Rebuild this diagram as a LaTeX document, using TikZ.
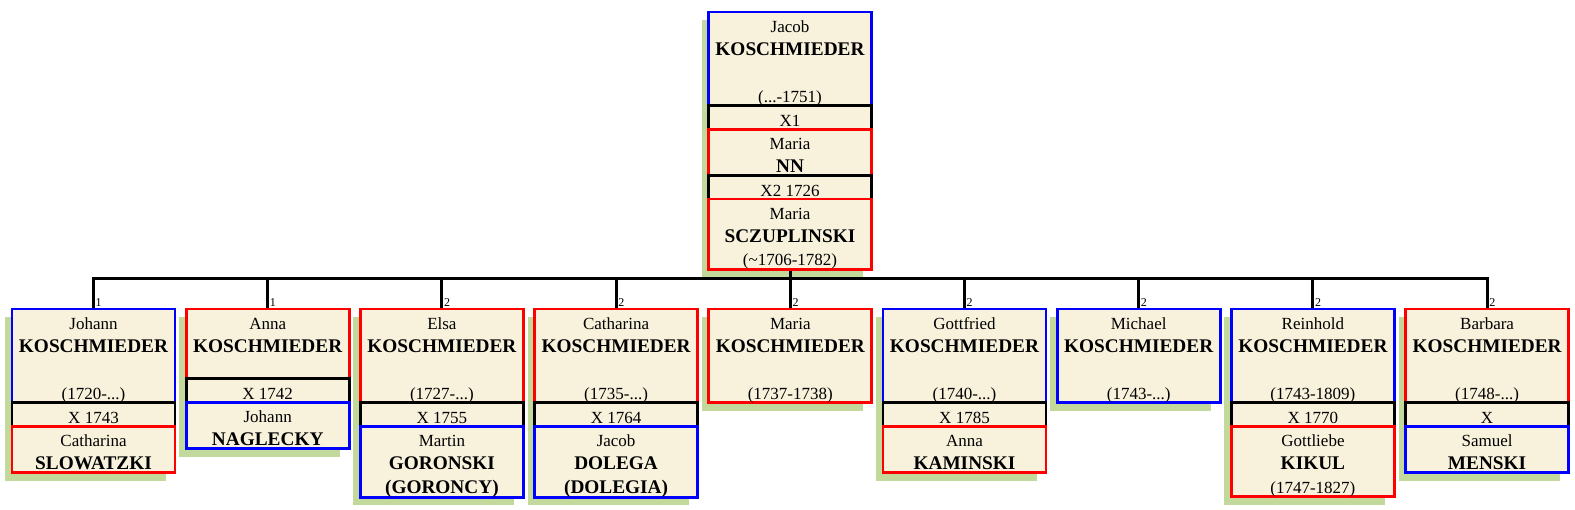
\documentclass[tikz,border=0pt]{standalone}
\usepackage{fontspec}
\setmainfont{Liberation Serif}
\usetikzlibrary{positioning,backgrounds,calc}
\definecolor{cream}{HTML}{F8F2DC}
\definecolor{leaf}{HTML}{C3D99B}
\newcommand\rs{\rule[-3pt]{0pt}{23.3pt}}
\newcommand\sur[1]{{\fontsize{19.3}{23.3}\selectfont\bfseries#1}}
\tikzset{
  box/.style={draw,line width=2.8pt,fill=cream,minimum width=163pt,inner sep=0pt,outer sep=0pt,anchor=north,align=center,font=\fontsize{17}{23.3}\selectfont},
  man/.style={box,draw=blue},
  woman/.style={box,draw=red},
  wed/.style={box,draw=black},
  conn/.style={line width=3pt},
  num/.style={anchor=south west,inner sep=2pt,font=\fontsize{12}{12}\selectfont},
  shade/.style={fill=leaf}
}
\begin{document}
\begin{tikzpicture}[x=1pt,y=-1pt]
\useasboundingbox (0,0) rectangle (1575,510);
\coordinate (bus) at (790,279);
\node[man] (p) at (790,12) {\rs Jacob\\\rs\sur{KOSCHMIEDER}\\\rs\\\rs(...-1751)};
\node[wed,below=0pt of p] (x1) {\rs X1};
\node[woman,below=0pt of x1] (s1) {\rs Maria\\\rs\sur{NN}};
\node[wed,below=0pt of s1] (x2) {\rs X2 1726};
\node[woman,below=0pt of x2] (s2) {\rs Maria\\\rs\sur{SCZUPLINSKI}\\\rs(\textasciitilde1706-1782)};

\node[man] (c1) at (93.5,309) {\rs Johann\\\rs\sur{KOSCHMIEDER}\\\rs\\\rs(1720-...)};
\node[wed,below=0pt of c1] (m1) {\rs X 1743};
\node[woman,below=0pt of m1] (h1) {\rs Catharina\\\rs\sur{SLOWATZKI}};
\node[woman] (c2) at (267.7,309) {\rs Anna\\\rs\sur{KOSCHMIEDER}\\\rs};
\node[wed,below=0pt of c2] (m2) {\rs X 1742};
\node[man,below=0pt of m2] (h2) {\rs Johann\\\rs\sur{NAGLECKY}};
\node[woman] (c3) at (441.9,309) {\rs Elsa\\\rs\sur{KOSCHMIEDER}\\\rs\\\rs(1727-...)};
\node[wed,below=0pt of c3] (m3) {\rs X 1755};
\node[man,below=0pt of m3] (h3) {\rs Martin\\\rs\sur{GORONSKI}\\\rs\sur{(GORONCY)}};
\node[woman] (c4) at (616.1,309) {\rs Catharina\\\rs\sur{KOSCHMIEDER}\\\rs\\\rs(1735-...)};
\node[wed,below=0pt of c4] (m4) {\rs X 1764};
\node[man,below=0pt of m4] (h4) {\rs Jacob\\\rs\sur{DOLEGA}\\\rs\sur{(DOLEGIA)}};
\node[woman] (c5) at (790.3,309) {\rs Maria\\\rs\sur{KOSCHMIEDER}\\\rs\\\rs(1737-1738)};
\node[man] (c6) at (964.5,309) {\rs Gottfried\\\rs\sur{KOSCHMIEDER}\\\rs\\\rs(1740-...)};
\node[wed,below=0pt of c6] (m6) {\rs X 1785};
\node[woman,below=0pt of m6] (h6) {\rs Anna\\\rs\sur{KAMINSKI}};
\node[man] (c7) at (1138.7,309) {\rs Michael\\\rs\sur{KOSCHMIEDER}\\\rs\\\rs(1743-...)};
\node[man] (c8) at (1312.9,309) {\rs Reinhold\\\rs\sur{KOSCHMIEDER}\\\rs\\\rs(1743-1809)};
\node[wed,below=0pt of c8] (m8) {\rs X 1770};
\node[woman,below=0pt of m8] (h8) {\rs Gottliebe\\\rs\sur{KIKUL}\\\rs(1747-1827)};
\node[woman] (c9) at (1487.1,309) {\rs Barbara\\\rs\sur{KOSCHMIEDER}\\\rs\\\rs(1748-...)};
\node[wed,below=0pt of c9] (m9) {\rs X};
\node[man,below=0pt of m9] (h9) {\rs Samuel\\\rs\sur{MENSKI}};

\begin{scope}[on background layer]
\foreach \a/\b in {p/s2,c1/h1,c2/h2,c3/h3,c4/h4,c5/c5,c6/h6,c7/c7,c8/h8,c9/h9}
  \fill[shade] ($(\a.north west)+(-7,8)$) rectangle ($(\b.south east)+(-9,8)$);
\draw[conn] (s2.south) -- (s2.south |- bus);
\draw[conn] (c1.north) -- (c1.north |- bus) -- (c9.north |- bus) -- (c9.north);
\foreach \k in {2,...,8}
  \draw[conn] (c\k.north |- bus) -- (c\k.north);
\end{scope}
\foreach \k/\n in {1/1,2/1,3/2,4/2,5/2,6/2,7/2,8/2,9/2}
  \node[num] (n\k) at (c\k.north) {\n};
\end{tikzpicture}
\end{document}
